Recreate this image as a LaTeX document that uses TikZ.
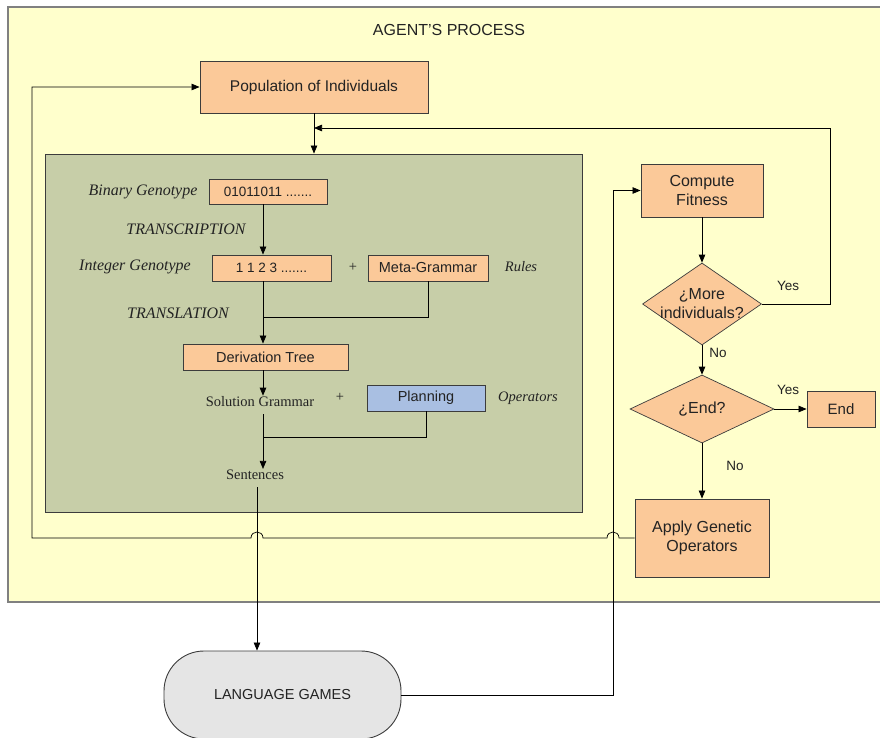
\documentclass[tikz,border=0pt]{standalone}
\usepackage{fontspec}
\setmainfont{Liberation Serif}
\setsansfont{Liberation Sans}
\usetikzlibrary{arrows.meta,shapes.geometric}
\definecolor{bgyellow}{RGB}{255,255,204}
\definecolor{gboxc}{RGB}{199,206,168}
\definecolor{peach}{RGB}{251,201,153}
\definecolor{pblue}{RGB}{169,191,226}
\definecolor{lgray}{RGB}{229,229,229}
\definecolor{edge}{RGB}{60,60,60}
\definecolor{txt}{RGB}{35,35,35}
\begin{document}
\begin{tikzpicture}[x=1pt,y=-1pt,
 box/.style={draw=edge,line width=0.9pt,fill=peach,inner sep=0pt,font=\sffamily\fontsize{14.5}{17}\selectfont,text=txt,align=center},
 bigbox/.style={box,font=\sffamily\fontsize{16}{19}\selectfont},
 dia/.style={draw=edge,line width=0.7pt,fill=peach,diamond,inner sep=0pt},
 arr/.style={-{Triangle[length=8pt,width=6.5pt]},line width=0.7pt,draw=black},
 ln/.style={line width=0.7pt,draw=black},
 ital/.style={font=\itshape\fontsize{16}{19}\selectfont,text=txt,inner sep=1pt},
 itals/.style={font=\itshape\fontsize{14.5}{17}\selectfont,text=txt,inner sep=1pt},
 rom/.style={font=\fontsize{14.5}{17}\selectfont,text=txt,inner sep=1pt},
 lab/.style={font=\sffamily\fontsize{13.5}{16}\selectfont,text=txt,inner sep=1pt},
 dlab/.style={font=\sffamily\fontsize{16}{19}\selectfont,text=txt,align=center,inner sep=0pt}]
\useasboundingbox (0,0) rectangle (880,738);
% outer agent area
\fill[bgyellow,draw=gray,line width=1.2pt] (8,7) rectangle (900,602);
\node[font=\sffamily\fontsize{16}{19}\selectfont,text=txt] (title) at (449,30) {AGENT’S PROCESS};
% population
\node[box,minimum width=228pt,minimum height=52pt,font=\sffamily\fontsize{15.5}{18}\selectfont] (pop) at (314,87) {Population of Individuals};
% green area
\node[draw=edge,line width=0.9pt,fill=gboxc,minimum width=537pt,minimum height=358pt,inner sep=0pt] (gb) at (313.5,333) {};
\coordinate (ax) at (263,0);
\coordinate (lx) at (257,0);
\coordinate (vx) at (613,0);
\coordinate (rj) at (830,128);
\node[ital] (binl) at (143,192) {Binary Genotype};
\node[box,minimum width=118pt,minimum height=25pt,font=\sffamily\fontsize{13.5}{16}\selectfont] (bin) at (268,191.5) {01011011 .......};
\node[ital] (trc) at (186,229) {TRANSCRIPTION};
\node[ital] (intl) at (135,267) {Integer Genotype};
\node[box,minimum width=119pt,minimum height=26pt,font=\sffamily\fontsize{13.5}{16}\selectfont] (int) at (271.5,268) {1 1 2 3 .......};
\node[rom] (plus1) at (353,267) {+};
\node[box,minimum width=120pt,minimum height=26pt] (meta) at (428,268) {Meta-Grammar};
\node[itals] (rules) at (521,267) {Rules};
\node[ital] (trl) at (178,313) {TRANSLATION};
\node[box,minimum width=165pt,minimum height=26pt] (der) at (265.5,357) {Derivation Tree};
\node[rom] (sol) at (260,402) {Solution Grammar};
\node[rom] (plus2) at (340,397) {+};
\node[box,fill=pblue,minimum width=118pt,minimum height=26pt] (plan) at (426,398) {Planning};
\node[itals] (ops) at (528,398) {Operators};
\node[rom] (sen) at (255,475) {Sentences};
\draw[arr] (bin.south -| ax) -- (int.north -| ax);
\draw[arr] (int.south -| ax) -- (der.north -| ax);
\draw[ln] (meta.south) |- (ax |- 0,317);
\draw[arr] (der.south -| ax) -- (sol.north -| ax);
\draw[ln] (plan.south) |- (ax |- 0,437);
\draw[arr,shorten <=6pt] (sol.south -| ax) -- (sen.north -| ax);
% right column
\node[bigbox,minimum width=122pt,minimum height=53pt] (comp) at (702,190.5) {Compute\\Fitness};
\node[dia,minimum width=119pt,minimum height=82pt,label={[dlab]center:¿More\\individuals?}] (more) at (702,304) {};
\node[dia,minimum width=144pt,minimum height=68pt,label={[dlab]center:¿End?}] (endd) at (702,409) {};
\node[bigbox,minimum width=68pt,minimum height=36pt,font=\sffamily\fontsize{15}{18}\selectfont] (endb) at (841,409) {End};
\node[bigbox,minimum width=134pt,minimum height=78pt] (app) at (702,538) {Apply Genetic\\Operators};
\node[lab] (yes1) at (788,286) {Yes};
\node[lab] (no1) at (718,353) {No};
\node[lab] (yes2) at (788,390) {Yes};
\node[lab] (no2) at (735,466) {No};
\draw[arr] (pop.south) -- (pop.south |- gb.north);
\draw[arr] (comp.south) -- (more.north);
\draw[arr] (more.south) -- (endd.north);
\draw[arr] (endd.east) -- (endb.west);
\draw[arr] (endd.south) -- (app.north);
\draw[arr] (more.east) -| (rj) -- (pop.south |- rj);
% language games
\node[draw=edge,line width=0.9pt,fill=lgray,rounded corners=40pt,minimum width=237pt,minimum height=88pt,inner sep=0pt,font=\sffamily\fontsize{14.5}{17}\selectfont,text=txt] (lg) at (282.5,695) {LANGUAGE GAMES};
\draw[arr,shorten <=6pt] (sen.south -| lx) -- (lg.north -| lx);
\draw[arr] (lg.east) -| (vx |- comp.west) -- (comp.west);
\draw[arr] (app.west) -- (619,538) .. controls (619,530) and (607,530) .. (607,538)
  -- (263,538) .. controls (263,530) and (251,530) .. (251,538) -- (32,538) |- (pop.west);
\end{tikzpicture}
\end{document}
